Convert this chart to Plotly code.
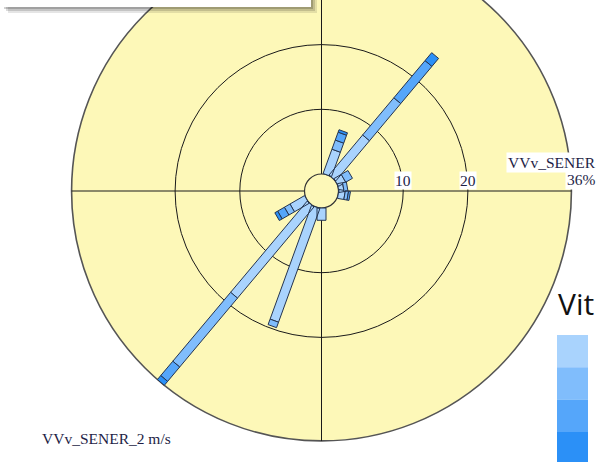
import math
import plotly.graph_objects as go

# Sector directions (compass degrees, clockwise from north)
directions = [20, 40, 60, 80, 100, 180, 200, 220, 240]

# Frequency (%) of each wind-speed class per sector, aligned with `directions`
freq_c1 = [4.0, 8.1, 1.3, 0.8, 1.0, 1.9, 18.7, 18.4, 2.6]
freq_c2 = [1.5, 7.5, 1.2, 0.6, 0.5, 0.0, 0.9, 13.9, 1.0]
freq_c3 = [1.3, 7.5, 0.0, 0.0, 0.3, 0.0, 0.0, 2.9, 1.2]
freq_c4 = [0.4, 1.6, 0.0, 0.0, 0.0, 0.0, 0.0, 0.8, 0.5]
speed_freqs = [freq_c1, freq_c2, freq_c3, freq_c4]

ring_values = [10, 20]
outer_value = 36
station = "VVv_SENER"
caption = "VVv_SENER_2 m/s"
legend_title = "Vit"

class_colors = ["#a9d3fd", "#80bdfc", "#55a6fa", "#2b90f7"]
bar_line = "#24344f"
rose_fill = "#fdf8b8"
text_color = "#1e1e46"

# Page geometry
W, H = 603, 462
CX, CY = 321.5, 191.0          # rose centre in page pixels
PX = 6.47                      # pixels per percent on the radial scale
HOLE = 17.0 / PX               # radius of the calm circle, in percent units
HALF_W = 4.5 / PX              # half width of a rose bar

R_OUT = HOLE + outer_value


def px_x(p):
    return p / W


def px_y(p):
    return 1 - p / H


fig = go.Figure()

# Stacked rectangular bars, one trace per speed class
cum = [0.0] * len(directions)
for cls, freqs in enumerate(speed_freqs):
    xs, ys = [], []
    for i, (d, f) in enumerate(zip(directions, freqs)):
        if f <= 0:
            continue
        r0 = HOLE + cum[i]
        r1 = r0 + f
        cum[i] += f
        t = math.radians(d)
        ux, uy = math.sin(t), math.cos(t)
        nx, ny = math.cos(t), -math.sin(t)
        pts = [
            (r0 * ux + HALF_W * nx, r0 * uy + HALF_W * ny),
            (r1 * ux + HALF_W * nx, r1 * uy + HALF_W * ny),
            (r1 * ux - HALF_W * nx, r1 * uy - HALF_W * ny),
            (r0 * ux - HALF_W * nx, r0 * uy - HALF_W * ny),
        ]
        pts.append(pts[0])
        xs += [p[0] for p in pts] + [None]
        ys += [p[1] for p in pts] + [None]
    fig.add_trace(go.Scatter(
        x=xs, y=ys, mode="lines", fill="toself",
        fillcolor=class_colors[cls],
        line=dict(color=bar_line, width=1),
        hoverinfo="skip", showlegend=False,
    ))

shapes = []
# Rose background
shapes.append(dict(type="circle", xref="x", yref="y", layer="below",
                   x0=-R_OUT, x1=R_OUT, y0=-R_OUT, y1=R_OUT,
                   fillcolor=rose_fill, line=dict(color="#555555", width=1.6)))
# Cross-hair axes
shapes.append(dict(type="line", xref="x", yref="y", layer="below",
                   x0=-R_OUT, x1=R_OUT, y0=0, y1=0,
                   line=dict(color="#1a1a1a", width=1)))
shapes.append(dict(type="line", xref="x", yref="y", layer="below",
                   x0=0, x1=0, y0=-R_OUT, y1=R_OUT,
                   line=dict(color="#1a1a1a", width=1)))
# Frequency rings
for v in ring_values:
    r = HOLE + v
    shapes.append(dict(type="circle", xref="x", yref="y", layer="below",
                       x0=-r, x1=r, y0=-r, y1=r,
                       line=dict(color="#1a1a1a", width=1)))
# Calm circle
shapes.append(dict(type="circle", xref="x", yref="y", layer="below",
                   x0=-HOLE, x1=HOLE, y0=-HOLE, y1=HOLE,
                   fillcolor=rose_fill, line=dict(color="#333333", width=1.2)))

# Overlapping window at the top-left, with its soft shadow
for off, op in [(6, 0.10), (4, 0.14), (2, 0.18)]:
    shapes.append(dict(type="rect", xref="paper", yref="paper", layer="above",
                       x0=px_x(off + 2), x1=px_x(311 + off),
                       y0=px_y(7 + off), y1=px_y(0),
                       fillcolor="#000000", opacity=op, line=dict(width=0)))
shapes.append(dict(type="rect", xref="paper", yref="paper", layer="above",
                   x0=px_x(-2), x1=px_x(311), y0=px_y(7), y1=px_y(-2),
                   fillcolor="#ffffff", line=dict(width=0)))

# Speed-class colour scale
box_top, box_h = 335, 32.3
for k, c in enumerate(class_colors):
    shapes.append(dict(type="rect", xref="paper", yref="paper", layer="above",
                       x0=px_x(557), x1=px_x(588),
                       y0=px_y(box_top + (k + 1) * box_h), y1=px_y(box_top + k * box_h),
                       fillcolor=c, line=dict(width=0)))

serif = dict(family="Liberation Serif, Times New Roman, serif", size=15.5, color=text_color)

annotations = []
for v in ring_values:
    annotations.append(dict(x=HOLE + v, y=0, xref="x", yref="y", text=str(v),
                            showarrow=False, xanchor="center", yanchor="bottom",
                            yshift=1, font=serif, bgcolor="#ffffff", borderpad=0))
annotations.append(dict(x=px_x(598), y=px_y(173), xref="paper", yref="paper",
                        text=station, showarrow=False, xanchor="right", yanchor="bottom",
                        font=serif, bgcolor="#ffffff", borderpad=1))
annotations.append(dict(x=px_x(598), y=px_y(190), xref="paper", yref="paper",
                        text=f"{outer_value}%", showarrow=False, xanchor="right",
                        yanchor="bottom", font=serif, bgcolor="#ffffff", borderpad=1))
annotations.append(dict(x=px_x(40), y=px_y(449), xref="paper", yref="paper",
                        text=caption, showarrow=False, xanchor="left", yanchor="bottom",
                        font=serif))
annotations.append(dict(x=px_x(556), y=px_y(326), xref="paper", yref="paper",
                        text=legend_title, showarrow=False, xanchor="left", yanchor="bottom",
                        font=dict(family="Open Sans, sans-serif", size=30, color="#111111")))

fig.update_layout(
    width=W, height=H,
    margin=dict(l=0, r=0, t=0, b=0),
    paper_bgcolor="#ffffff", plot_bgcolor="#ffffff",
    xaxis=dict(range=[-CX / PX, (W - CX) / PX], visible=False, fixedrange=True),
    yaxis=dict(range=[-(H - CY) / PX, CY / PX], visible=False, fixedrange=True),
    shapes=shapes, annotations=annotations,
    showlegend=False,
)

fig.write_html("out.html")
